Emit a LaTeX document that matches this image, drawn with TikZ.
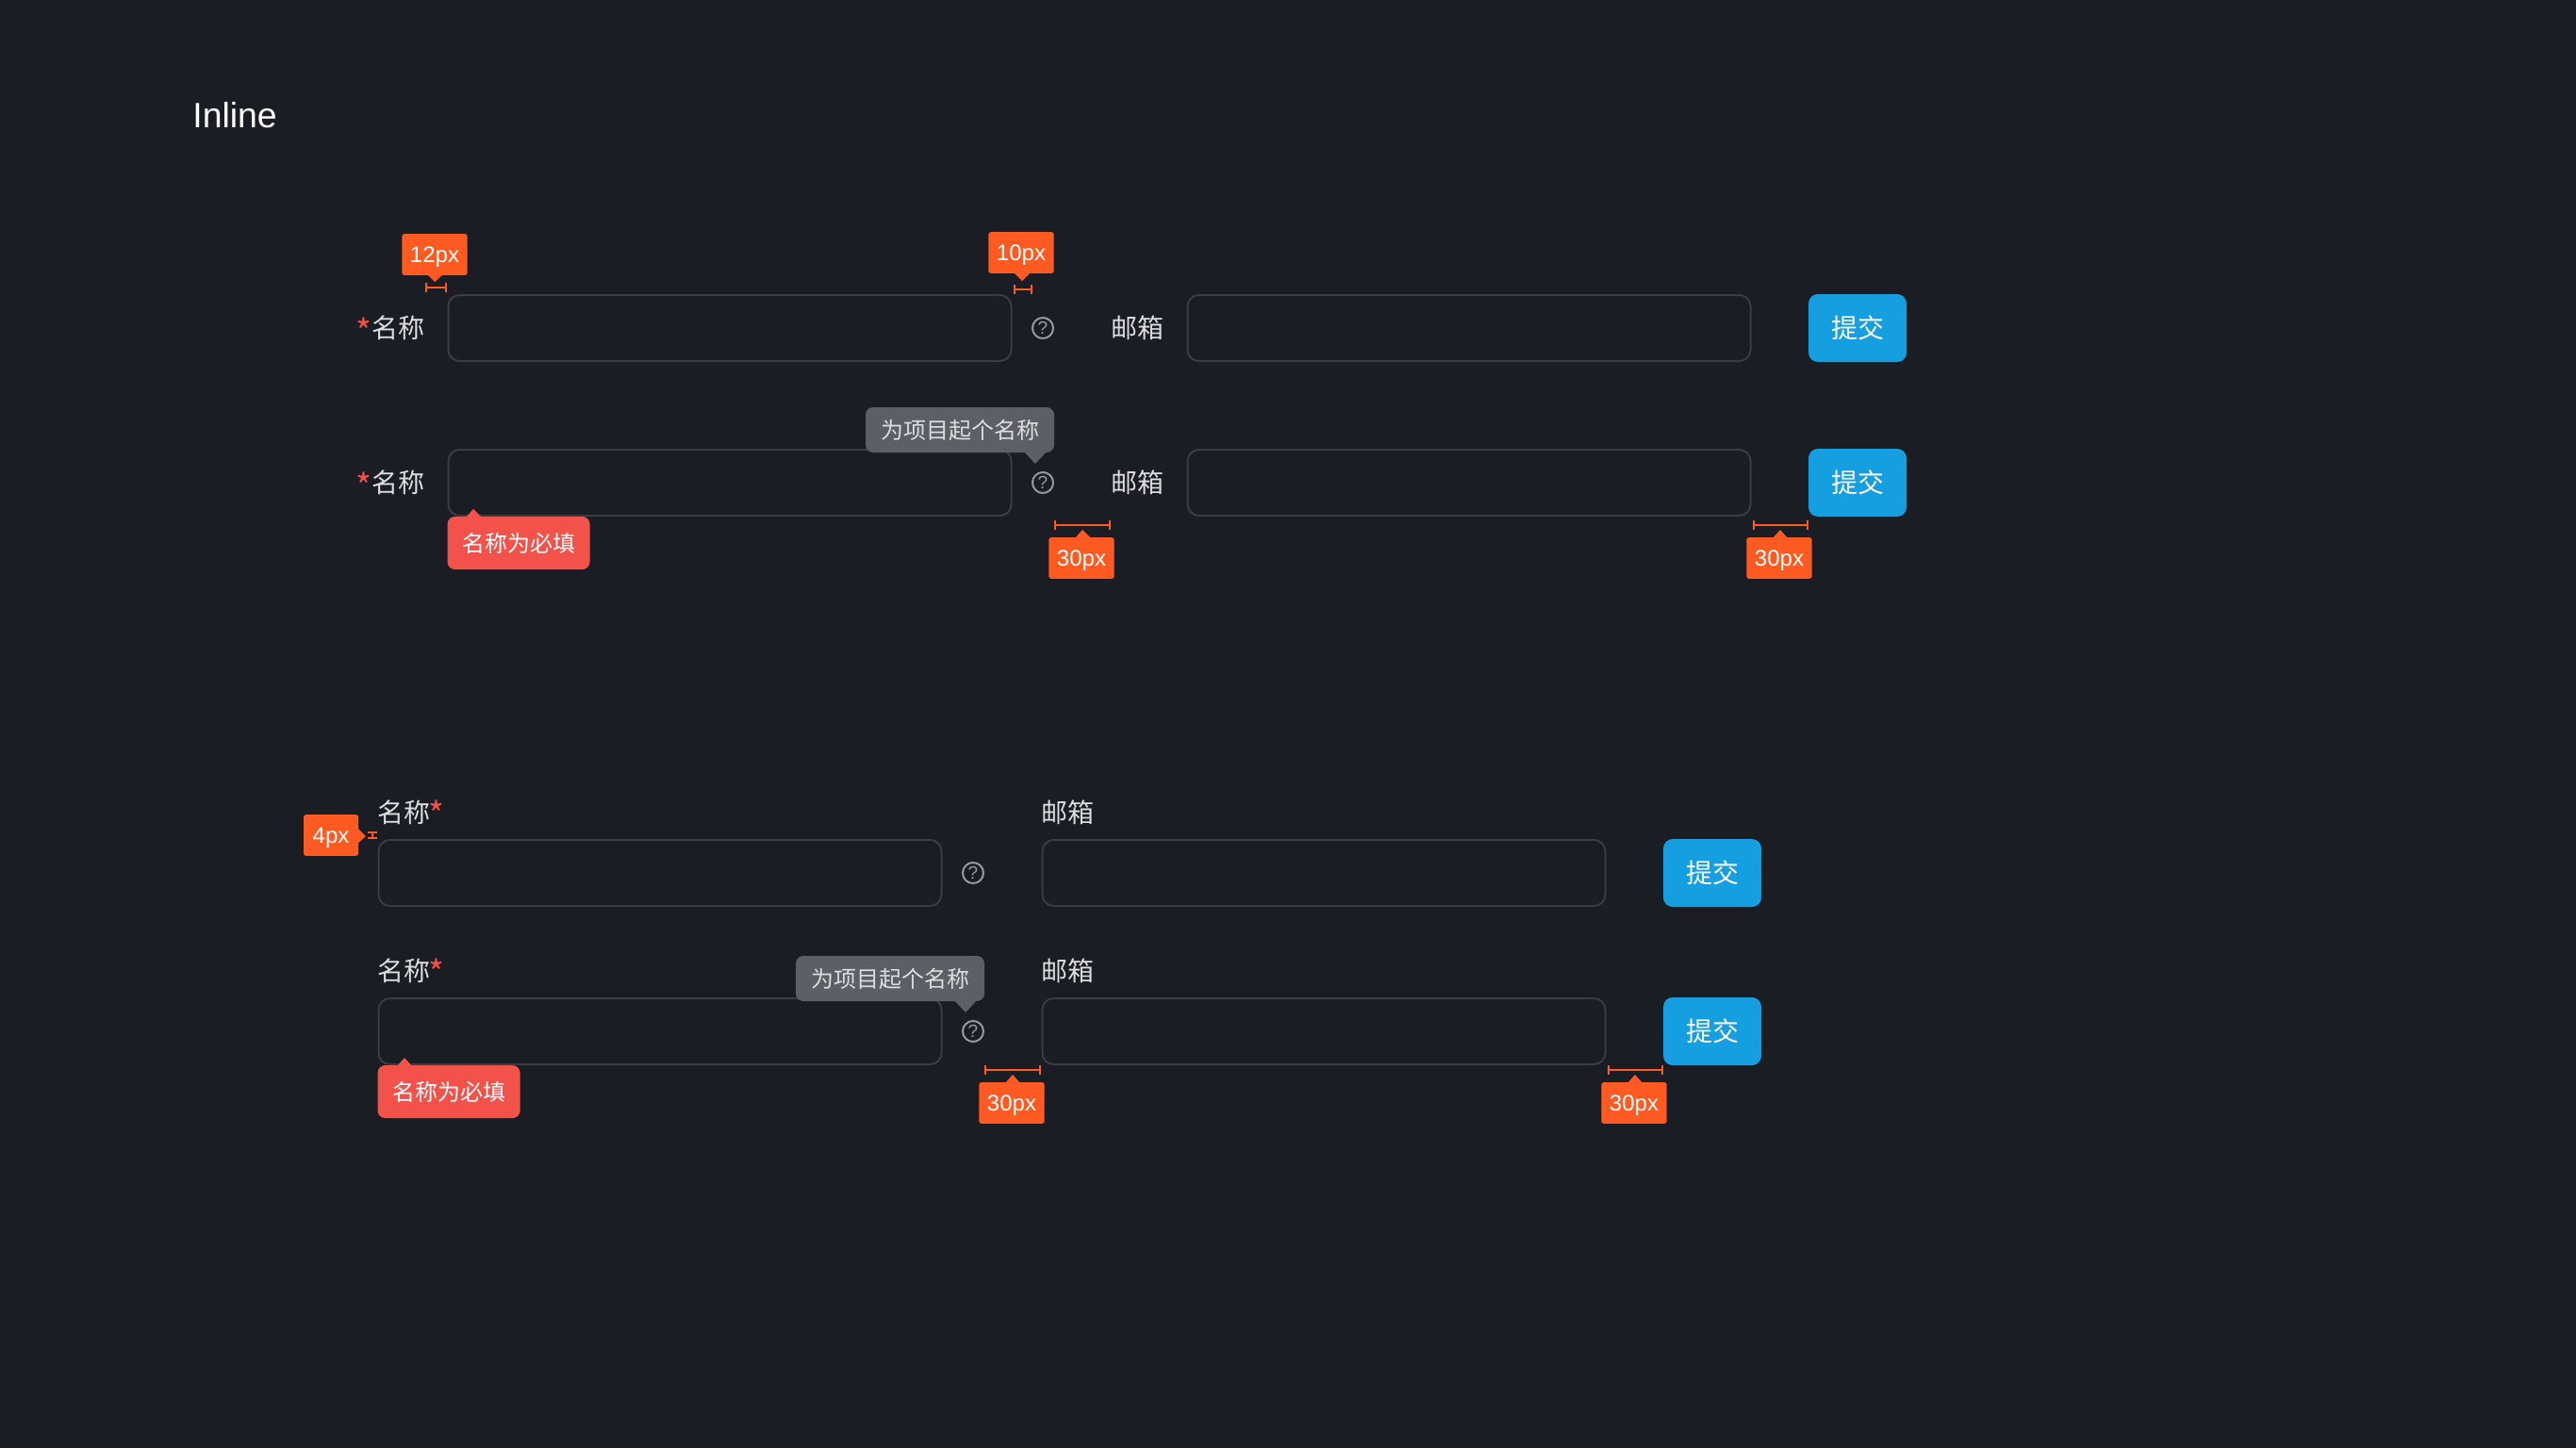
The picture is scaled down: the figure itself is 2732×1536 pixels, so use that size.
\documentclass[tikz,border=0pt]{standalone}
\usepackage{fontspec}
\setmainfont{Liberation Sans}
\newfontfamily\cjk{Noto Sans CJK SC}
\usetikzlibrary{arrows.meta}
\definecolor{pagebg}{HTML}{1A1D24}
\definecolor{fieldline}{HTML}{3A3C41}
\definecolor{labeltext}{HTML}{DCDDDE}
\definecolor{starred}{HTML}{F2524A}
\definecolor{markorange}{HTML}{FF5A21}
\definecolor{tipgrey}{HTML}{5C5F66}
\definecolor{iconline}{HTML}{97999D}
\definecolor{submitblue}{HTML}{169FE0}
\tikzset{
    fieldbox/.style = {draw = fieldline, line width = 1pt, rounded corners = 6pt, minimum width = 298.5pt, minimum height = 35pt, inner sep = 0pt},
    submitbox/.style = {fill = submitblue, rounded corners = 5pt, minimum width = 52pt, minimum height = 36pt, inner sep = 0pt, text = white, font = \cjk\fontsize{14pt}{14pt}\selectfont},
    formlabel/.style = {text = labeltext, inner sep = 0pt, font = \cjk\fontsize{14pt}{14pt}\selectfont},
    starlabel/.style = {text = starred, inner sep = 0pt, font = \cjk\fontsize{18pt}{18pt}\selectfont},
    helpicon/.style = {circle, draw = iconline, line width = 1pt, minimum size = 11pt, inner sep = 0pt, text = iconline, font = \fontsize{9.5pt}{9.5pt}\selectfont},
    badgebox/.style = {fill = markorange, rounded corners = 1.2pt, minimum width = 34.7pt, minimum height = 21.8pt, inner sep = 0pt, text height = 11.1pt, text depth = 2.5pt, text = white, font = \fontsize{12pt}{12pt}\selectfont},
    tipbox/.style = {fill = tipgrey, rounded corners = 4pt, minimum width = 100pt, minimum height = 24pt, inner sep = 0pt, text = labeltext, font = \cjk\fontsize{12pt}{12pt}\selectfont},
    errorbox/.style = {fill = starred, rounded corners = 4pt, minimum width = 75.5pt, minimum height = 28pt, inner sep = 0pt, text = white, font = \cjk\fontsize{12pt}{12pt}\selectfont},
    dimline/.style = {draw = markorange, line width = 1pt, {Bar[width = 5pt, line width = 1pt]}-{Bar[width = 5pt, line width = 1pt]}}
}
\begin{document}
\begin{tikzpicture}[x = 0.5pt, y = -0.5pt]
    \fill[pagebg] (0,0) rectangle (2732,1536);
    \useasboundingbox (0,0) rectangle (2732,1536);
    \node[anchor = west, inner sep = 0pt, text = white, font = \fontsize{18.7pt}{18.7pt}\selectfont] (title) at (204,122) {Inline};

    % top form
    \node[fieldbox] (nameA) at (774,348) {};
    \node[fieldbox] (mailA) at (1558,348) {};
    \node[submitbox] (sendA) at (1970,348) {提交};
    \node[formlabel] (nameLabelA) at (422.5,348) {名称};
    \node[starlabel] (starA) at (386,351) {*};
    \node[formlabel] (mailLabelA) at (1206,348) {邮箱};
    \node[helpicon] (helpA) at (1106,348) {?};

    \node[fieldbox] (nameB) at (774,512) {};
    \node[fieldbox] (mailB) at (1558,512) {};
    \node[submitbox] (sendB) at (1970,512) {提交};
    \node[formlabel] (nameLabelB) at (422.5,512) {名称};
    \node[starlabel] (starB) at (386,515) {*};
    \node[formlabel] (mailLabelB) at (1206,512) {邮箱};
    \node[helpicon] (helpB) at (1106,512) {?};

    \fill[tipgrey] (1086,479) -- (1098,492) -- (1110,479) -- cycle;
    \node[tipbox] (tipB) at (1018,456) {为项目起个名称};
    \fill[starred] (494,549) -- (502,540) -- (511,549) -- cycle;
    \node[errorbox] (errorB) at (550,576) {名称为必填};

    % top marks
    \fill[markorange] (453,291) -- (461,299) -- (470,291) -- cycle;
    \node[badgebox] (badgeA) at (461,270) {12px};
    \coordinate (dimAl) at (450.5,305);
    \coordinate (dimAr) at (474,305);
    \draw[dimline] (dimAl) -- (dimAr);

    \fill[markorange] (1075,289) -- (1084,298) -- (1093,289) -- cycle;
    \node[badgebox] (badgeB) at (1083,268) {10px};
    \coordinate (dimBl) at (1074.5,307);
    \coordinate (dimBr) at (1094.5,307);
    \draw[dimline] (dimBl) -- (dimBr);

    \fill[markorange] (1140,571) -- (1148,562) -- (1157,571) -- cycle;
    \node[badgebox] (badgeC) at (1147,592) {30px};
    \coordinate (dimCl) at (1118,557);
    \coordinate (dimCr) at (1178,557);
    \draw[dimline] (dimCl) -- (dimCr);

    \fill[markorange] (1880,571) -- (1888,562) -- (1896,571) -- cycle;
    \node[badgebox] (badgeD) at (1887,592) {30px};
    \coordinate (dimDl) at (1858.5,557);
    \coordinate (dimDr) at (1918,557);
    \draw[dimline] (dimDl) -- (dimDr);

    % lower form
    \node[fieldbox] (nameC) at (700,926) {};
    \node[fieldbox] (mailC) at (1404,926) {};
    \node[submitbox] (sendC) at (1816,926) {提交};
    \node[formlabel] (nameLabelC) at (428,862) {名称};
    \node[starlabel] (starC) at (463,863) {*};
    \node[formlabel] (mailLabelC) at (1132,862) {邮箱};
    \node[helpicon] (helpC) at (1032,926) {?};

    \node[fieldbox] (nameD) at (700,1094) {};
    \node[fieldbox] (mailD) at (1404,1094) {};
    \node[submitbox] (sendD) at (1816,1094) {提交};
    \node[formlabel] (nameLabelD) at (428,1030) {名称};
    \node[starlabel] (starD) at (463,1031) {*};
    \node[formlabel] (mailLabelD) at (1132,1030) {邮箱};
    \node[helpicon] (helpD) at (1032,1094) {?};

    \fill[tipgrey] (1012,1061) -- (1024,1074) -- (1036,1061) -- cycle;
    \node[tipbox] (tipD) at (944,1038) {为项目起个名称};
    \fill[starred] (421,1131) -- (429,1122) -- (437,1131) -- cycle;
    \node[errorbox] (errorD) at (476,1158) {名称为必填};

    % lower marks
    \fill[markorange] (379,878) -- (388,887) -- (379,895) -- cycle;
    \node[badgebox, minimum width = 29pt] (badgeE) at (351,886) {4px};
    \coordinate (dimEt) at (394.5,882);
    \coordinate (dimEb) at (394.5,890);
    \draw[dimline] (dimEt) -- (dimEb);

    \fill[markorange] (1066,1149) -- (1074,1140) -- (1082,1149) -- cycle;
    \node[badgebox] (badgeF) at (1073,1170) {30px};
    \coordinate (dimFl) at (1044,1135);
    \coordinate (dimFr) at (1103.5,1135);
    \draw[dimline] (dimFl) -- (dimFr);

    \fill[markorange] (1726,1149) -- (1734,1140) -- (1742,1149) -- cycle;
    \node[badgebox] (badgeG) at (1733,1170) {30px};
    \coordinate (dimGl) at (1704.5,1135);
    \coordinate (dimGr) at (1764,1135);
    \draw[dimline] (dimGl) -- (dimGr);
\end{tikzpicture}
\end{document}
